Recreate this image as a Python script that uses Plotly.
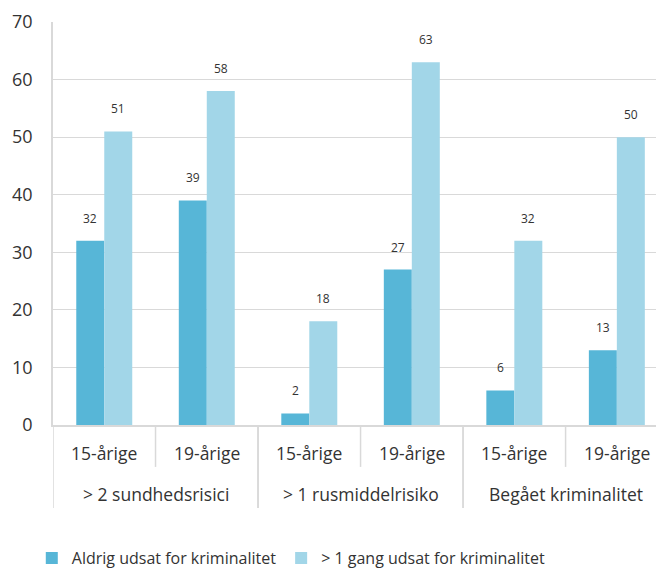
import plotly.graph_objects as go

# categories (outer group, inner age group)
groups = ["> 2 sundhedsrisici", "> 2 sundhedsrisici",
          "> 1 rusmiddelrisiko", "> 1 rusmiddelrisiko",
          "Begået kriminalitet", "Begået kriminalitet"]
ages = ["15-årige", "19-årige"] * 3

never = [32, 39, 2, 27, 6, 13]
once_plus = [51, 58, 18, 63, 32, 50]

series_names = ["Aldrig udsat for kriminalitet", "> 1 gang udsat for kriminalitet"]
colors = ["#57B6D7", "#A2D6E8"]

font_family = "Open Sans, Noto Sans, sans-serif"
grey = "#D9D9D9"
pos = list(range(len(ages)))

fig = go.Figure()
for name, vals, col in zip(series_names, [never, once_plus], colors):
    fig.add_trace(go.Bar(x=pos, y=vals, name=name,
                         marker=dict(color=col, line=dict(width=0))))

# value labels above the bars
for si, vals in enumerate([never, once_plus]):
    for i, v in enumerate(vals):
        fig.add_annotation(x=pos[i], y=v, text=str(v), showarrow=False,
                           xref="x", yref="y", yanchor="bottom", yshift=12,
                           xshift=(-14 if si == 0 else 14),
                           font=dict(size=12, color="#333333", family=font_family))

# inner row labels + short separators
for i, a in enumerate(ages):
    fig.add_annotation(x=pos[i], y=-0.069, text=a, showarrow=False, xref="x", yref="paper",
                       yanchor="middle", font=dict(size=17.5, color="#333333"))
    if i > 0 and groups[i] == groups[i - 1]:
        fig.add_shape(type="line", x0=i - 0.5, x1=i - 0.5, y0=0, y1=-0.104,
                      xref="x", yref="paper", line=dict(color=grey, width=1.5))

# outer row labels + long separators
outer = list(dict.fromkeys(groups))
for g in outer:
    idx = [i for i, gg in enumerate(groups) if gg == g]
    fig.add_annotation(x=sum(idx) / len(idx), y=-0.171, text=g, showarrow=False,
                       xref="x", yref="paper", yanchor="middle",
                       font=dict(size=17.5, color="#333333"))
    for b in (idx[0] - 0.5, idx[-1] + 0.5):
        fig.add_shape(type="line", x0=b, x1=b, y0=0, y1=-0.206,
                      xref="x", yref="paper", line=dict(color=grey, width=1.5))

# page body adds an 8px margin, so the figure is 8px smaller and margins shifted
fig.update_layout(
    width=656, height=563,
    margin=dict(l=45, r=0, t=14, b=146, autoexpand=False),
    paper_bgcolor="white", plot_bgcolor="white",
    barmode="group", bargap=0.454, bargroupgap=0,
    font=dict(family=font_family, size=16, color="#333333"),
    legend=dict(orientation="h", x=0.39, xanchor="center", y=-0.33, yanchor="middle",
                font=dict(size=16), itemwidth=30, traceorder="normal"),
    showlegend=True,
)
fig.update_yaxes(range=[0, 70], dtick=10, showgrid=True, gridcolor=grey, gridwidth=1,
                 showline=True, linecolor=grey, linewidth=1.5, zeroline=False,
                 tickfont=dict(size=18), ticklabelstandoff=15, automargin=False)
fig.update_xaxes(range=[-0.5, 5.46], showticklabels=False, showgrid=False, zeroline=False,
                 showline=True, linecolor=grey, linewidth=1.5, automargin=False)

fig.write_html("out.html")
